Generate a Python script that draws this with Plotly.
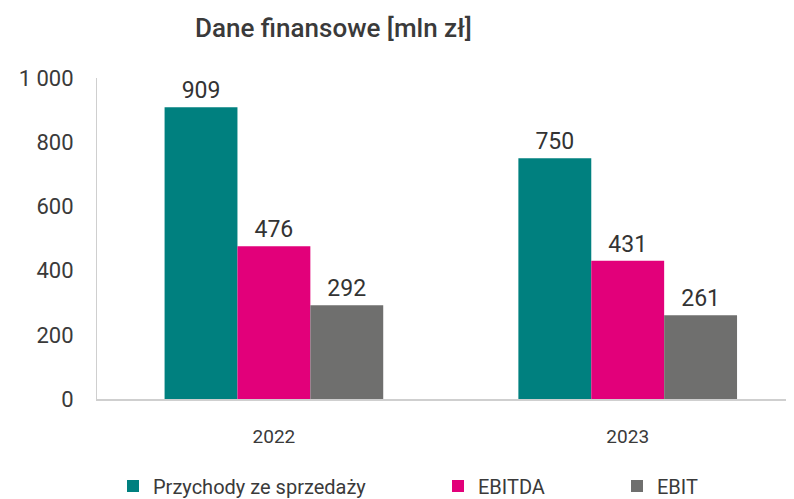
import plotly.graph_objects as go

# Dane wykresu
lata = ["2022", "2023"]
przychody = [909, 750]
ebitda = [476, 431]
ebit = [292, 261]

serie = [
    ("Przychody ze sprzedaży", przychody, "#00807F", "legend"),
    ("EBITDA", ebitda, "#E2007A", "legend2"),
    ("EBIT", ebit, "#6F6F6E", "legend3"),
]

# strona ma 8 px marginesu body, więc rysunek jest mniejszy o 8 px
OFF = 8
W, H = 794 - OFF, 499 - OFF

fig = go.Figure()
for nazwa, wartosci, kolor, leg in serie:
    fig.add_trace(
        go.Bar(
            x=lata,
            y=wartosci,
            name=nazwa,
            marker={"color": kolor, "line": {"width": 0}},
            text=[str(v) for v in wartosci],
            textposition="outside",
            textfont={"size": 23, "color": "#333333", "family": "Roboto"},
            cliponaxis=False,
            legend=leg,
        )
    )

legend_font = {"size": 20, "color": "#3a3a3a", "family": "Roboto"}
legend_base = dict(
    orientation="h",
    xanchor="left",
    yanchor="middle",
    y=1 - (486 - OFF) / H,
    yref="container",
    xref="container",
    font=legend_font,
    bgcolor="rgba(0,0,0,0)",
    itemwidth=30,
    traceorder="normal",
)

fig.update_layout(
    width=W,
    height=H,
    paper_bgcolor="white",
    plot_bgcolor="white",
    margin={"l": 97 - OFF, "r": 0, "t": 78 - OFF, "b": 499 - 398 - 1, "autoexpand": False},
    barmode="group",
    bargap=0.382,
    bargroupgap=0,
    separators=", ",
    showlegend=True,
    title={
        "text": "Dane finansowe [mln zł]",
        "x": (195 - OFF) / W,
        "xanchor": "left",
        "xref": "container",
        "y": 1 - (28 - OFF) / H,
        "yanchor": "middle",
        "yref": "container",
        "font": {"size": 26, "color": "#3a3a3a", "family": "Roboto", "weight": 500},
    },
    xaxis={
        "range": [-0.5, 1.47],
        "showline": True,
        "linecolor": "#cfcfcf",
        "linewidth": 2,
        "ticks": "outside",
        "ticklen": 19,
        "tickcolor": "rgba(0,0,0,0)",
        "tickfont": {"size": 19, "color": "#3a3a3a", "family": "Roboto"},
        "showgrid": False,
    },
    yaxis={
        "range": [0, 1000],
        "tickvals": [0, 200, 400, 600, 800, 1000],
        "tickformat": ",d",
        "showline": True,
        "linecolor": "#cfcfcf",
        "linewidth": 1,
        "ticks": "outside",
        "ticklen": 18,
        "tickcolor": "rgba(0,0,0,0)",
        "tickfont": {"size": 22, "color": "#3a3a3a", "family": "Roboto"},
        "showgrid": False,
        "zeroline": False,
    },
    legend=dict(legend_base, x=(113 - OFF) / W),
    legend2=dict(legend_base, x=(438 - OFF) / W),
    legend3=dict(legend_base, x=(617 - OFF) / W),
)

fig.write_html("out.html")
